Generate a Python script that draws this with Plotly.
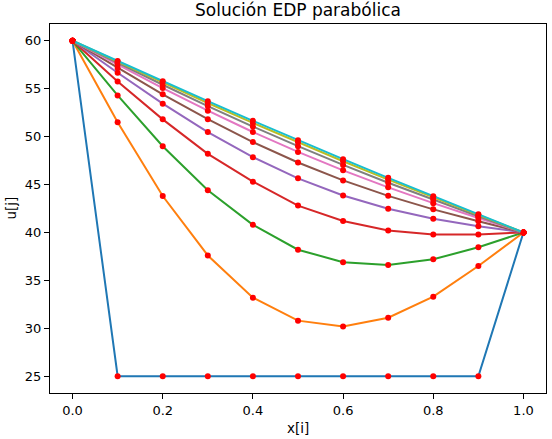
import plotly.graph_objects as go

x = [0.0, 0.1, 0.2, 0.3, 0.4, 0.5, 0.6, 0.7, 0.8, 0.9, 1.0]

u0 = [60, 25, 25, 25, 25, 25, 25, 25, 25, 25, 40]
u1 = [60, 51.5, 43.8, 37.6, 33.2, 30.8, 30.2, 31.1, 33.3, 36.5, 40]
u2 = [60, 54.3, 49.0, 44.4, 40.8, 38.2, 36.9, 36.6, 37.2, 38.45, 40]
u3 = [60, 55.75, 51.8, 48.2, 45.3, 42.8, 41.2, 40.2, 39.8, 39.8, 40]
u4 = [60, 56.66, 53.44, 50.48, 47.86, 45.65, 43.86, 42.48, 41.44, 40.66, 40]
u5 = [60, 57.17, 54.41, 51.82, 49.43, 47.3, 45.43, 43.82, 42.41, 41.17, 40]
u6 = [60, 57.51, 55.06, 52.71, 50.48, 48.4, 46.48, 44.71, 43.06, 41.51, 40]
u7 = [60, 57.69, 55.41, 53.19, 51.05, 49.0, 47.05, 45.19, 43.41, 41.69, 40]
u8 = [60, 57.81, 55.65, 53.51, 51.43, 49.4, 47.43, 45.51, 43.65, 41.81, 40]
u9 = [60, 57.89, 55.78, 53.70, 51.65, 49.63, 47.65, 45.70, 43.78, 41.89, 40]

series = [u0, u1, u2, u3, u4, u5, u6, u7, u8, u9]
colors = ["#1f77b4", "#ff7f0e", "#2ca02c", "#d62728", "#9467bd",
          "#8c564b", "#e377c2", "#7f7f7f", "#bcbd22", "#17becf"]

x_ticks = [0.0, 0.2, 0.4, 0.6, 0.8, 1.0]
y_ticks = [25, 30, 35, 40, 45, 50, 55, 60]

FONT = "DejaVu Sans"

W, H = 552, 439
ML, MT, MR, MB = 50, 24, 6, 46
PW, PH = W - ML - MR, H - MT - MB

fig = go.Figure()
for u, c in zip(series, colors):
    fig.add_trace(go.Scatter(x=x, y=u, mode="lines",
                             line=dict(color=c, width=2), showlegend=False,
                             hoverinfo="skip"))
    fig.add_trace(go.Scatter(x=x, y=u, mode="markers",
                             marker=dict(color="red", size=6), showlegend=False))

axis_common = dict(showgrid=False, zeroline=False, showline=True, mirror=True,
                   linecolor="black", linewidth=1, ticks="outside", ticklen=5,
                   tickwidth=1, tickcolor="black",
                   tickfont=dict(family=FONT, size=13, color="black"))

fig.update_xaxes(range=[-0.05, 1.05], tickvals=x_ticks,
                 ticktext=[f"{v:.1f}" for v in x_ticks], **axis_common)
fig.update_yaxes(range=[23.25, 61.75], tickvals=y_ticks,
                 ticktext=[str(v) for v in y_ticks], **axis_common)

fig.update_layout(
    width=W, height=H,
    margin=dict(l=ML, r=MR, t=MT, b=MB),
    paper_bgcolor="white", plot_bgcolor="white",
    font=dict(family=FONT, color="black"),
    title=dict(text="Solución EDP parabólica", x=0.5, xref="paper",
               y=1 - 10.5 / H, yref="container", yanchor="middle",
               font=dict(family=FONT, size=17, color="black")),
    annotations=[
        dict(text="x[i]", xref="paper", yref="paper", x=0.5, y=-35 / PH,
             xanchor="center", yanchor="middle", showarrow=False,
             font=dict(family=FONT, size=13.5, color="black")),
        dict(text="u[j]", xref="paper", yref="paper", x=-40 / PW, y=0.5,
             xanchor="center", yanchor="middle", showarrow=False, textangle=-90,
             font=dict(family=FONT, size=13.5, color="black")),
    ],
)

fig.write_html(
    "out.html",
    config={"displayModeBar": False},
    post_script="document.body.style.margin='0';document.body.style.overflow='hidden';",
)
